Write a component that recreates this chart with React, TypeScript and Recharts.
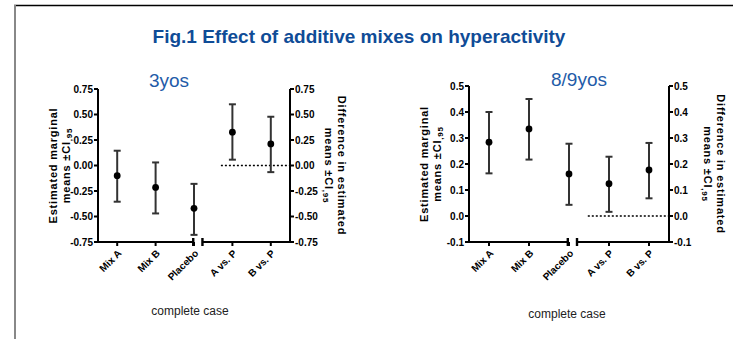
import React from "react";
import {
  ComposedChart,
  Scatter,
  ErrorBar,
  XAxis,
  YAxis,
  ReferenceLine,
  ReferenceDot,
} from "recharts";

const groupNames = ["Mix A", "Mix B", "Placebo"];
const contrastNames = ["A vs. P", "B vs. P"];

// 3yos
const youngMeans = [-0.1, -0.215, -0.42];
const youngMeanLow = [-0.355, -0.47, -0.68];
const youngMeanHigh = [0.145, 0.03, -0.18];
const youngDiffs = [0.327, 0.212];
const youngDiffLow = [0.057, -0.065];
const youngDiffHigh = [0.6, 0.478];
const youngTicks = [-0.75, -0.5, -0.25, 0, 0.25, 0.5, 0.75];

// 8/9yos
const olderMeans = [0.284, 0.335, 0.162];
const olderMeanLow = [0.164, 0.217, 0.043];
const olderMeanHigh = [0.4, 0.45, 0.278];
const olderDiffs = [0.124, 0.177];
const olderDiffLow = [0.016, 0.068];
const olderDiffHigh = [0.228, 0.281];
const olderTicks = [-0.1, 0, 0.1, 0.2, 0.3, 0.4, 0.5];

const FONT = "'Liberation Sans', Arial, sans-serif";
const allNames = [...groupNames, ...contrastNames];
const xTicks = allNames.map((_, i) => i + 1);

const toRows = (names: string[], vals: number[], lo: number[], hi: number[], offset: number) =>
  names.map((name, i) => ({
    name,
    pos: offset + i + 1,
    value: vals[i],
    err: [vals[i] - lo[i], hi[i] - vals[i]],
  }));

function SlantTick(props: any) {
  const { x, y, payload } = props;
  return (
    <g transform={`translate(${x + 5},${y + 6})`}>
      <text textAnchor="end" fontSize={10} fontWeight="bold" fill="#000" fontFamily={FONT} transform="rotate(-45)">
        {allNames[payload.value - 1]}
      </text>
    </g>
  );
}

function AxisTitle(props: any) {
  const { viewBox, side } = props;
  const left = side === "left";
  const cy = viewBox.y + viewBox.height / 2;
  const edge = left ? viewBox.x + viewBox.width : viewBox.x;
  const first = left ? edge - 45 : edge + 52;
  const second = left ? edge - 32 : edge + 39;
  const rot = left ? -90 : 90;
  const common = {
    fontSize: 11,
    fontWeight: "bold" as const,
    fill: "#000",
    fontFamily: FONT,
    letterSpacing: 0.8,
    textAnchor: "middle" as const,
    dominantBaseline: "central" as const,
  };
  return (
    <g>
      <text {...common} transform={`translate(${first},${cy}) rotate(${rot})`}>
        {left ? "Estimated marginal" : "Difference in estimated"}
      </text>
      <text {...common} transform={`translate(${second},${cy}) rotate(${rot})`}>
        means ±CI
        <tspan fontSize={8} dy={3}>,95</tspan>
      </text>
    </g>
  );
}

const BreakMark = (p: any) => <rect x={p.cx - 1.2} y={p.cy - 4} width={2.4} height={8} fill="#000" />;

function Panel(props: any) {
  const { means, diffs, ticks, digits, width, height, margin, breakAt, zeroFrom } = props;
  const lo = ticks[0];
  const hi = ticks[ticks.length - 1];
  const fmt = (v: number) => v.toFixed(digits);
  const axisStyle = { stroke: "#000", strokeWidth: 2 };
  const tickStyle = { fontSize: 10, fontWeight: "bold", fill: "#000", fontFamily: FONT };
  const dot = (p: any) => <circle cx={p.cx} cy={p.cy} r={3.4} fill="#000" />;
  return (
    <ComposedChart width={width} height={height} margin={margin}>
      <XAxis
        type="number"
        dataKey="pos"
        domain={[0.5, 5.5]}
        ticks={xTicks}
        axisLine={false}
        tickLine={axisStyle}
        tickSize={4}
        height={50}
        interval={0}
        tick={<SlantTick />}
      />
      <YAxis
        yAxisId="l"
        domain={[lo, hi]}
        ticks={ticks}
        tickFormatter={fmt}
        width={40}
        axisLine={axisStyle}
        tickLine={axisStyle}
        tickSize={4}
        tickMargin={1}
        tick={tickStyle}
        label={<AxisTitle side="left" />}
      />
      <YAxis
        yAxisId="r"
        orientation="right"
        domain={[lo, hi]}
        ticks={ticks}
        tickFormatter={fmt}
        width={40}
        axisLine={axisStyle}
        tickLine={axisStyle}
        tickSize={4}
        tickMargin={1}
        tick={tickStyle}
        label={<AxisTitle side="right" />}
      />
      <ReferenceLine
        yAxisId="l"
        segment={[{ x: 0.5, y: lo }, { x: breakAt[0], y: lo }]}
        stroke="#000"
        strokeWidth={2}
        ifOverflow="visible"
      />
      <ReferenceLine
        yAxisId="l"
        segment={[{ x: breakAt[1], y: lo }, { x: 5.5, y: lo }]}
        stroke="#000"
        strokeWidth={2}
        ifOverflow="visible"
      />
      <ReferenceDot yAxisId="l" x={breakAt[0]} y={lo} ifOverflow="visible" shape={BreakMark} />
      <ReferenceDot yAxisId="l" x={breakAt[1]} y={lo} ifOverflow="visible" shape={BreakMark} />
      <ReferenceLine
        yAxisId="r"
        segment={[{ x: zeroFrom, y: 0 }, { x: 5.5, y: 0 }]}
        stroke="#000"
        strokeWidth={1.5}
        strokeDasharray="2 2"
      />
      <Scatter yAxisId="l" data={means} dataKey="value" shape={dot} isAnimationActive={false}>
        <ErrorBar dataKey="err" direction="y" width={3.5} stroke="#333" strokeWidth={2} isAnimationActive={false} />
      </Scatter>
      <Scatter yAxisId="r" data={diffs} dataKey="value" shape={dot} isAnimationActive={false}>
        <ErrorBar dataKey="err" direction="y" width={3.5} stroke="#333" strokeWidth={2} isAnimationActive={false} />
      </Scatter>
    </ComposedChart>
  );
}

export default function App() {
  const youngMeanRows = toRows(groupNames, youngMeans, youngMeanLow, youngMeanHigh, 0);
  const youngDiffRows = toRows(contrastNames, youngDiffs, youngDiffLow, youngDiffHigh, groupNames.length);
  const olderMeanRows = toRows(groupNames, olderMeans, olderMeanLow, olderMeanHigh, 0);
  const olderDiffRows = toRows(contrastNames, olderDiffs, olderDiffLow, olderDiffHigh, groupNames.length);

  return (
    <div style={{ position: "absolute", left: 0, top: 0, width: 733, height: 339, background: "#fff", fontFamily: FONT }}>
      <svg width={733} height={339} style={{ position: "absolute", left: 0, top: 0 }}>
        <line x1={14} y1={5.5} x2={733} y2={5.5} stroke="#000" strokeWidth={1.5} />
        <rect x={14} y={5} width={2} height={334} fill="#888" />
        <text x={359} y={43} textAnchor="middle" fontSize={19} fontWeight="bold" fill="#0f4c97" fontFamily={FONT}>
          Fig.1 Effect of additive mixes on hyperactivity
        </text>
        <text x={169} y={87} textAnchor="middle" fontSize={19} fill="#1f5ca8" fontFamily={FONT}>
          3yos
        </text>
        <text x={579} y={86} textAnchor="middle" fontSize={19} fill="#1f5ca8" fontFamily={FONT}>
          8/9yos
        </text>
        <text x={190} y={315} textAnchor="middle" fontSize={12} fill="#222" fontFamily={FONT}>
          complete case
        </text>
        <text x={567} y={318} textAnchor="middle" fontSize={12} fill="#222" fontFamily={FONT}>
          complete case
        </text>
      </svg>
      <div style={{ position: "absolute", left: 0, top: 60 }}>
        <Panel
          means={youngMeanRows}
          diffs={youngDiffRows}
          ticks={youngTicks}
          digits={2}
          width={370}
          height={279}
          margin={{ top: 29, right: 40, bottom: 47, left: 58 }}
          breakAt={[2.98, 3.22]}
          zeroFrom={3.7}
        />
      </div>
      <div style={{ position: "absolute", left: 370, top: 60 }}>
        <Panel
          means={olderMeanRows}
          diffs={olderDiffRows}
          ticks={olderTicks}
          digits={1}
          width={363}
          height={279}
          margin={{ top: 26, right: 24, bottom: 47, left: 59 }}
          breakAt={[2.97, 3.2]}
          zeroFrom={3.47}
        />
      </div>
    </div>
  );
}
